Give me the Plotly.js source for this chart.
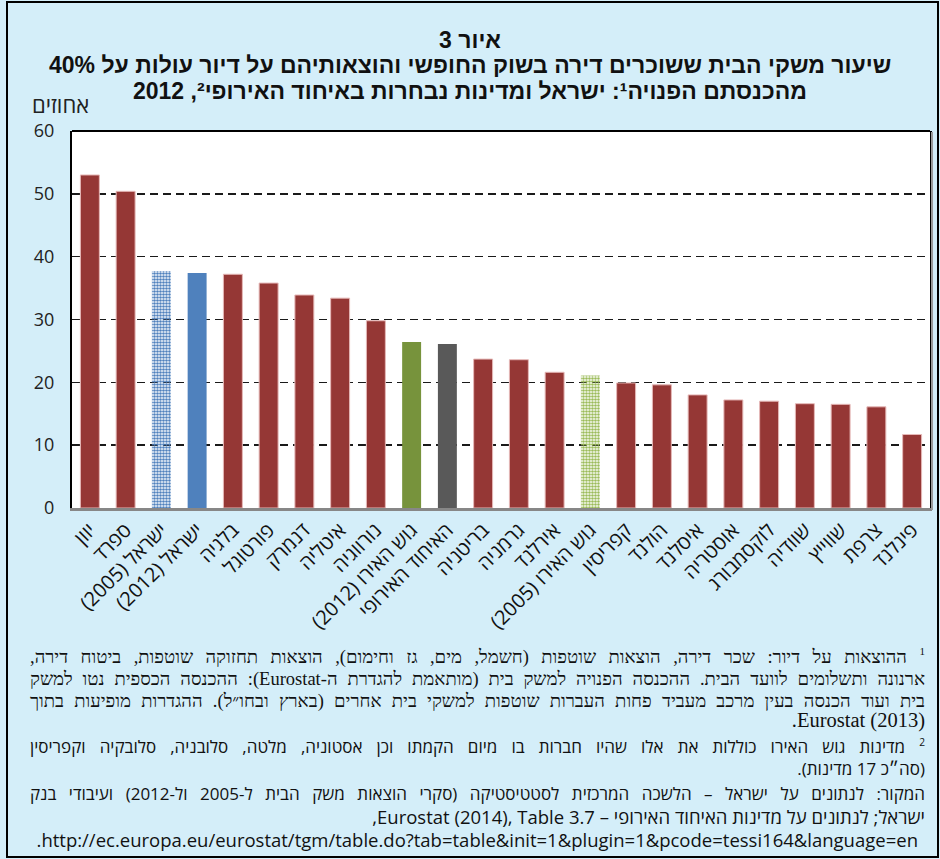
<!DOCTYPE html>
<html>
<head>
<meta charset="utf-8">
<script src="https://cdn.plot.ly/plotly-3.0.1.min.js"></script>
<style>
  html, body { margin: 0; padding: 0; background: #D4EEF9; }
  #wrap { position: relative; width: 940px; height: 859px; overflow: hidden; }
  #chart { position: absolute; left: 0; top: 0; width: 940px; height: 859px; }
  .note { position: absolute; left: 30px; width: 895px; height: 22px; line-height: 22px;
          direction: rtl; white-space: nowrap; color: #111; }
  .note.serif { font-family: "Liberation Serif", "Times New Roman", serif; font-size: 18.5px; }
  .note.sans  { font-family: "Open Sans", "Liberation Sans", sans-serif; font-size: 17px; }
  .note.just  { text-align: justify; text-align-last: justify; }
  .note.start { text-align: right; }
  .note sup { font-size: 0.6em; line-height: 0; vertical-align: 0.7em; }
</style>
</head>
<body>
<div id="wrap">
<div id="chart"></div>
</div>
<script>
// ---- data ----
const countries = ['יוון','ספרד','ישראל (2005)','ישראל (2012)','בלגיה','פורטוגל','דנמרק','איטליה','נורווגיה','גוש האירו (2012)','האיחוד האירופי','בריטניה','גרמניה','אירלנד','גוש האירו (2005)','קפריסין','הולנד','איסלנד','אוסטריה','לוקסמבורג','שוודיה','שווייץ','צרפת','פינלנד'];
const shares = [53.0,50.4,37.7,37.4,37.2,35.8,33.9,33.4,29.8,26.4,26.1,23.7,23.6,21.6,21.1,19.9,19.6,18.0,17.2,17.0,16.6,16.5,16.1,11.7];
const groups = ['eu','eu','il05','il12','eu','eu','eu','eu','eu','ez12','euavg','eu','eu','eu','ez05','eu','eu','eu','eu','eu','eu','eu','eu','eu'];
const yTicks = [0,10,20,30,40,50,60];

const titleLines = ['איור 3','שיעור משקי הבית ששוכרים דירה בשוק החופשי והוצאותיהם על דיור עולות על 40%','מהכנסתם הפנויה¹: ישראל ומדינות נבחרות באיחוד האירופי², 2012'];
const yUnit = 'אחוזים';
const notes = [
  '¹ ההוצאות על דיור: שכר דירה, הוצאות שוטפות (חשמל, מים, גז וחימום), הוצאות תחזוקה שוטפות, ביטוח דירה,',
  'ארנונה ותשלומים לוועד הבית. ההכנסה הפנויה למשק בית (מותאמת להגדרת ה-Eurostat): ההכנסה הכספית נטו למשק',
  'בית ועוד הכנסה בעין מרכב מעביד פחות העברות שוטפות למשקי בית אחרים (בארץ ובחו״ל). ההגדרות מופיעות בתוך',
  'Eurostat (2013).',
  '² מדינות גוש האירו כוללות את אלו שהיו חברות בו מיום הקמתו וכן אסטוניה, מלטה, סלובניה, סלובקיה וקפריסין',
  '(סה״כ 17 מדינות).',
  'המקור: לנתונים על ישראל – הלשכה המרכזית לסטטיסטיקה (סקרי הוצאות משק הבית ל-2005 ול-2012) ועיבודי בנק',
  'ישראל; לנתונים על מדינות האיחוד האירופי – Eurostat (2014), Table 3.7,',
  'http://ec.europa.eu/eurostat/tgm/table.do?tab=table&init=1&plugin=1&pcode=tessi164&language=en.'
];

// ---- styling ----
const rtl = s => '\u202B' + s + '\u202C';
const style = {
  eu:    {color:'#953735', shape:'',  fg:'#953735', bg:'#953735', line:'#E6B9B8', lw:1},
  il05:  {color:'#4F81BD', shape:'.', fg:'#7FA3D1', bg:'#D5E1F1', line:'rgba(0,0,0,0)', lw:0},
  il12:  {color:'#4F81BD', shape:'',  fg:'#4F81BD', bg:'#4F81BD', line:'rgba(0,0,0,0)', lw:0},
  ez12:  {color:'#77933C', shape:'',  fg:'#77933C', bg:'#77933C', line:'rgba(0,0,0,0)', lw:0},
  euavg: {color:'#595959', shape:'',  fg:'#595959', bg:'#595959', line:'rgba(0,0,0,0)', lw:0},
  ez05:  {color:'#9BBB59', shape:'.', fg:'#A9C26E', bg:'#DCE6C4', line:'rgba(0,0,0,0)', lw:0}
};

const L = 72, R = 930, T = 131, B = 508, W = 940, H = 859;
const px = x => (x - L) / (R - L);
const py = y => (B - y) / (B - T);

const trace = {
  type: 'bar',
  x: countries.map(rtl),
  y: shares,
  marker: {
    color: groups.map(g => style[g].color),
    line: { color: groups.map(g => style[g].line), width: groups.map(g => style[g].lw) },
    pattern: {
      shape: groups.map(g => style[g].shape),
      fgcolor: groups.map(g => style[g].fg),
      bgcolor: groups.map(g => style[g].bg),
      size: 3,
      solidity: 0.6
    }
  },
  hoverinfo: 'x+y'
};

const annotations = [];
const titleY = [40, 65, 91];
titleLines.forEach((t, i) => annotations.push({
  xref:'paper', yref:'paper', x: px(470), y: py(titleY[i]), xanchor:'center', yanchor:'middle',
  text: rtl(t), showarrow:false,
  font:{family:'"Liberation Sans", Arial, sans-serif', size:23, color:'#111', weight:'bold'}
}));
annotations.push({
  xref:'paper', yref:'paper', x: px(60), y: py(104), xanchor:'center', yanchor:'middle',
  text: rtl(yUnit), showarrow:false,
  font:{family:'"Open Sans", "Liberation Sans", sans-serif', size:22, color:'#222'}
});

const shapes = [
  {type:'rect', xref:'paper', yref:'paper', x0: px(7), x1: px(938), y0: py(857), y1: py(2),
   line:{color:'#000', width:2}, layer:'below'},
  {type:'line', xref:'paper', yref:'paper', x0:0, x1:1, y0:1, y1:1, line:{color:'#000', width:2}},
  {type:'line', xref:'paper', yref:'paper', x0: px(932), x1: px(932), y0: py(510), y1: py(132), line:{color:'#9a9a9a', width:2}}
];

const layout = {
  width: W, height: H,
  margin: {l: L, r: W - R, t: T, b: H - B},
  paper_bgcolor: '#D4EEF9',
  plot_bgcolor: '#FFFFFF',
  showlegend: false,
  bargap: 0.47,
  xaxis: {
    type: 'category',
    tickangle: -45,
    tickfont: {family:'"Open Sans", "Liberation Sans", sans-serif', size:20, color:'#111'},
    showline: true, linecolor: '#878787', linewidth: 2.5,
    ticks: '', showgrid: false, fixedrange: true
  },
  yaxis: {
    range: [0, 60],
    tickvals: yTicks,
    tickfont: {family:'"Open Sans", "Liberation Sans", sans-serif', size:18, color:'#222'},
    ticks: 'outside', ticklen: 12, tickcolor: 'rgba(0,0,0,0)',
    showline: true, mirror: true, linecolor: '#000', linewidth: 2,
    showgrid: true, gridcolor: '#1a1a1a', gridwidth: 1.5, griddash: '8px,5px',
    zeroline: false, fixedrange: true
  },
  annotations: annotations,
  shapes: shapes
};

Plotly.newPlot('chart', [trace], layout, {displayModeBar: false, staticPlot: true});

// ---- footnotes (HTML, right-to-left, justified like the source) ----
const noteY = [657, 679, 701, 720, 747, 769, 794, 817, 840];
const noteKind = ['serif just','serif just','serif just','serif start','sans just','sans start','sans just','sans start','sans start'];
const noteSize = [null, null, null, 20.5, null, null, null, 18.5, 18.5];
const esc = s => s.replace(/&/g,'&amp;').replace(/</g,'&lt;').replace(/>/g,'&gt;');
const wrap = document.getElementById('wrap');
notes.forEach((t, i) => {
  const d = document.createElement('div');
  d.className = 'note ' + noteKind[i];
  d.style.top = (noteY[i] - 11) + 'px';
  if (noteSize[i]) { d.style.fontSize = noteSize[i] + 'px'; }
  if (i === 8) { d.style.width = '888px'; }
  d.innerHTML = esc(t).replace('¹', '<sup>1</sup>').replace('²', '<sup>2</sup>');
  wrap.appendChild(d);
});
</script>
</body>
</html>
